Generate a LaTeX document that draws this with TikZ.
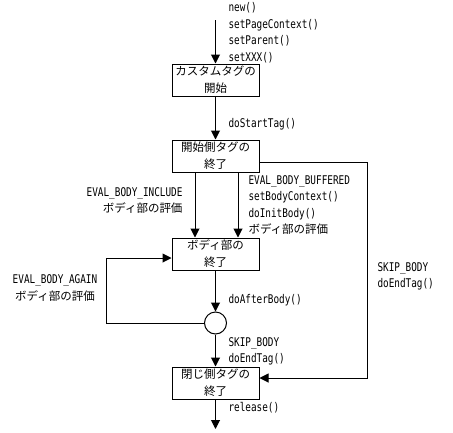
\documentclass[tikz,border=0pt]{standalone}
\usepackage{fontspec}
\setmainfont{DejaVu Sans Mono}[FakeStretch=0.78]
\newfontfamily\jp{Noto Sans CJK JP}
\newcommand{\jpt}{\jp\fontsize{11.5}{16.5}\selectfont}
\usetikzlibrary{arrows.meta}

\begin{document}
\begin{tikzpicture}[x=1pt,y=-1pt,line width=1pt,
   >={Triangle[length=9pt,width=9pt]},
   estado/.style={draw,minimum width=87pt,minimum height=32pt,inner sep=0pt,
      align=center,font=\jp\fontsize{11.5}{17}\selectfont},
   nudo/.style={draw,circle,minimum size=22pt,inner sep=0pt},
   etiq/.style={inner sep=0pt,font=\fontsize{12}{16.5}\selectfont}]
   \useasboundingbox (0,0) rectangle (453,432);
   %estados
   \coordinate (ini) at (215.5,20);
   \node[estado] (inicio) at (215.5,80) {カスタムタグの\\開始};
   \node[estado] (abre)   at (215.5,156) {開始側タグの\\終了};
   \node[estado] (cuerpo) at (215.5,254) {ボディ部の\\終了};
   \node[nudo]   (eval)   at (215.5,323) {};
   \node[estado] (cierra) at (215.5,383) {閉じ側タグの\\終了};
   \coordinate (fin) at (215.5,429);
   %flechas
   \draw[->] (ini) -- (inicio);
   \draw[->] (inicio) -- (abre);
   \draw[->] ([xshift=-20.5pt]abre.south) -- ([xshift=-20.5pt]cuerpo.north);
   \draw[->] ([xshift=22.5pt]abre.south) -- ([xshift=22.5pt]cuerpo.north);
   \draw[->] (cuerpo) -- (eval);
   \draw[->] (eval) -- (cierra);
   \draw[->] (cierra) -- (fin);
   \draw[->] ([yshift=-6pt]abre.east) -- ++(108,0) |- ([yshift=5pt]cierra.east);
   \draw[->] (eval.west) -- ++(-98,0) |- ([yshift=-4pt]cuerpo.west);
   %etiquetas
   \node[etiq,anchor=west,align=left] (metodos) at (228,32.5)
      {new()\\setPageContext()\\setParent()\\setXXX()};
   \node[etiq,anchor=west] (start) at (228,124) {doStartTag()};
   \node[etiq,anchor=east,align=right] (incluye) at (183,200.5)
      {EVAL\_BODY\_INCLUDE\\{\jpt ボディ部の評価}};
   \node[etiq,anchor=west,align=left] (buffer) at (248,205)
      {EVAL\_BODY\_BUFFERED\\setBodyContext()\\doInitBody()\\{\jpt ボディ部の評価}};
   \node[etiq,align=center] (otra) at (55,288)
      {EVAL\_BODY\_AGAIN\\{\jpt ボディ部の評価}};
   \node[etiq,anchor=west] (after) at (228,300) {doAfterBody()};
   \node[etiq,anchor=west,align=left] (skip) at (228,351.5) {SKIP\_BODY\\doEndTag()};
   \node[etiq,anchor=west,align=left] (salto) at (377,276.5) {SKIP\_BODY\\doEndTag()};
   \node[etiq,anchor=west] (libera) at (228,408) {release()};
\end{tikzpicture}
\end{document}
